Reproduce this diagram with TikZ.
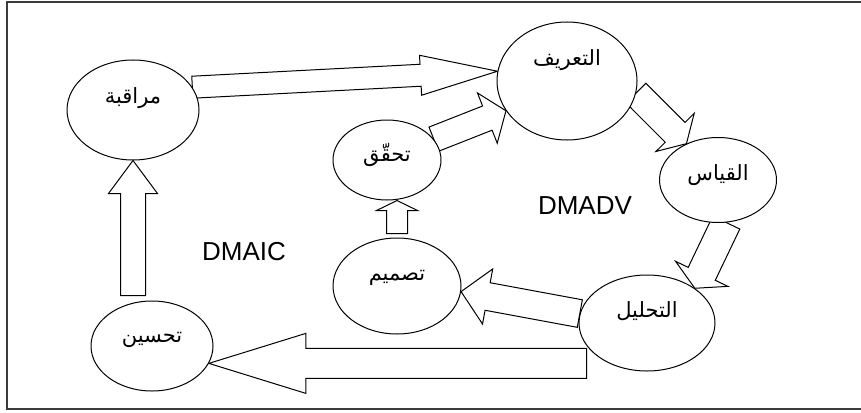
\documentclass[tikz,border=0pt]{standalone}
\usepackage{fontspec}
\usetikzlibrary{calc,backgrounds,shapes.geometric}
\newfontfamily\arabicfont[Script=Arabic]{DejaVu Sans}
\newfontfamily\latinfont{Liberation Sans}
\TeXXeTstate=1
\newcommand{\rtl}[1]{\beginR #1\endR}
\definecolor{frameGray}{RGB}{60,60,60}

\begin{document}
\begin{tikzpicture}[x=1pt,y=-1pt,
    phase/.style={draw,ellipse,fill=white,inner sep=0pt,line width=1pt},
    word/.style={font=\arabicfont\fontsize{21}{24}\selectfont},
    tag/.style={font=\latinfont\fontsize{26}{30}\selectfont},
    blockarrow/.style={draw,fill=white,line width=1pt,line join=miter}]
    \useasboundingbox (0,0) rectangle (861,412);
    % frame, open on the right
    \draw[frameGray,line width=1.4pt] (861,2) -- (7,2) -- (7,409) -- (861,409);

    % DMAIC
    \node[phase,minimum width=132pt,minimum height=100pt,
      label={[word,name=mon-txt,yshift=12pt]center:\rtl{مراقبة}}] (mon) at (133,110) {};
    \node[phase,minimum width=122pt,minimum height=90pt,
      label={[word,name=imp-txt,yshift=6pt]center:\rtl{تحسين}}] (imp) at (152,346) {};
    % DMADV
    \node[phase,minimum width=140pt,minimum height=118pt,
      label={[word,name=def-txt,yshift=21pt]center:\rtl{التعريف}}] (def) at (567,81) {};
    \node[phase,minimum width=117pt,minimum height=85pt,
      label={[word,name=mea-txt,yshift=5pt]center:\rtl{القياس}}] (mea) at (718,180) {};
    \node[phase,minimum width=136pt,minimum height=96pt,
      label={[word,name=ana-txt,yshift=12pt]center:\rtl{التحليل}}] (ana) at (647,323) {};
    \node[phase,minimum width=128pt,minimum height=96pt,
      label={[word,name=des-txt,yshift=8pt]center:\rtl{تصميم}}] (des) at (397,286) {};
    \node[phase,minimum width=108pt,minimum height=80pt,
      label={[word,name=ver-txt,yshift=5pt]center:\rtl{تحقّق}}] (ver) at (387,160) {};

    \node[tag] (dmaic) at (244,252) {DMAIC};
    \node[tag] (dmadv) at (585,206) {DMADV};

    % free ends of the straight arrows
    \coordinate (imp-s) at ($(ana.west |- imp.-17)+(8,0)$);
    \coordinate (imp-top) at ($(mon.south |- imp.north)+(0,-5)$);
    \coordinate (des-top) at ($(des.north)+(0,-4)$);
    \coordinate (ver-bot) at (des.north |- ver.south);

    \begin{scope}[on background layer]
      \foreach \src/\dst/\sw/\hw/\hl in {
        mon.21/def.172/11pt/20pt/77pt,
        ver.24/def.206/13pt/27pt/20pt,
        def.-10/mea.131/14pt/27pt/16pt,
        mea.281/ana.36/15pt/29pt/16pt,
        ana.172/des.-5/14pt/28pt/27pt,
        imp-s/imp.-17/15pt/30pt/97pt,
        imp-top/mon.south/12.5pt/24.5pt/33pt,
        des-top/ver-bot/10.5pt/20.5pt/10pt} {
          \coordinate (hb) at ($(\dst)!\hl!(\src)$);
          \draw[blockarrow] ($(\src)!\sw!90:(\dst)$) -- ($(hb)!\sw!90:(\dst)$)
            -- ($(hb)!\hw!90:(\dst)$) -- (\dst) -- ($(hb)!\hw!-90:(\dst)$)
            -- ($(hb)!\sw!-90:(\dst)$) -- ($(\src)!\sw!-90:(\dst)$) -- cycle;
      }
    \end{scope}
\end{tikzpicture}
\end{document}
